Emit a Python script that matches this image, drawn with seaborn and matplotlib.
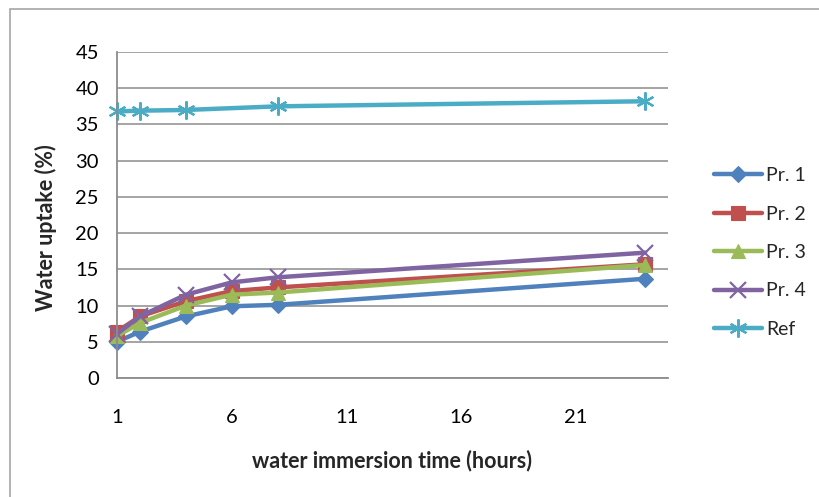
import pandas as pd
import matplotlib.pyplot as plt
import matplotlib.patches as mpatches
import seaborn as sns

# water immersion time (hours)
hours_pr = [1, 2, 4, 6, 8, 24]
hours_ref = [1, 2, 4, 8, 24]

# water uptake (%)
pr1 = [5.0, 6.4, 8.5, 9.9, 10.1, 13.7]
pr2 = [6.4, 8.5, 10.6, 12.0, 12.5, 15.7]
pr3 = [5.8, 7.6, 10.0, 11.5, 11.8, 15.6]
pr4 = [6.1, 8.5, 11.5, 13.2, 13.9, 17.3]
ref = [36.8, 36.9, 37.0, 37.5, 38.2]

series_names = ["Pr. 1", "Pr. 2", "Pr. 3", "Pr. 4", "Ref"]
colors = ["#4F81BD", "#C0504D", "#9BBB59", "#8064A2", "#4BACC6"]
markers = ["D", "s", "^", "x", (6, 2, 0)]
marker_sizes = [8, 10, 10, 11, 13]

frames = []
for name, xs, ys in zip(series_names,
                        [hours_pr] * 4 + [hours_ref],
                        [pr1, pr2, pr3, pr4, ref]):
    frames.append(pd.DataFrame({"hours": xs, "uptake": ys, "series": name}))
df = pd.concat(frames, ignore_index=True)

sns.set_theme(style="white")
plt.rcParams["font.family"] = ["Lato", "DejaVu Sans"]

fig = plt.figure(figsize=(8.2, 4.97), dpi=100)
ax = fig.add_axes([117 / 820, 1 - 378 / 497, (668 - 117) / 820, (378 - 52) / 497])

# chart area border
fig.patches.append(mpatches.Rectangle(
    (10 / 820, -0.05), 1.1, 1 - 9 / 497 + 0.05, transform=fig.transFigure,
    fill=False, edgecolor="#A6A6A6", linewidth=1.2, zorder=0))

for name, color, marker, ms in zip(series_names, colors, markers, marker_sizes):
    sub = df[df["series"] == name]
    line_marker = marker in ("x",) or isinstance(marker, tuple)
    sns.lineplot(
        data=sub, x="hours", y="uptake", ax=ax, color=color, linewidth=3.2,
        marker=marker, markersize=ms, label=name,
        markeredgecolor=color, markeredgewidth=1.6 if line_marker else 0.8,
        markerfacecolor=color, clip_on=False,
    )

ax.set_xlim(1, 25)
ax.set_ylim(0, 45)
ax.set_xticks([1, 6, 11, 16, 21])
ax.set_yticks(range(0, 50, 5))
ax.yaxis.grid(True, color="#8C8C8C", linewidth=1.1)
ax.xaxis.grid(False)
for side in ["top", "right"]:
    ax.spines[side].set_visible(False)
for side in ["left", "bottom"]:
    ax.spines[side].set_color("#8C8C8C")
    ax.spines[side].set_linewidth(1.3)
ax.tick_params(axis="x", length=0, pad=22, labelsize=14.5, colors="black")
ax.tick_params(axis="y", length=0, pad=13, labelsize=14.5, colors="black")

ax.set_xlabel("water immersion time (hours)", fontsize=15.5, fontweight="bold", labelpad=17)
ax.set_ylabel("Water uptake (%)", fontsize=15.5, fontweight="bold", labelpad=14)
ax.yaxis.set_label_coords(-0.108, 0.46)

ax.legend(loc="center left", bbox_to_anchor=(714 / 820, 1 - 252.5 / 497),
          bbox_transform=fig.transFigure, frameon=False, fontsize=14,
          handlelength=2.45, handletextpad=0.25, labelspacing=1.1, borderaxespad=0,
          borderpad=0)

fig.savefig("out.png", dpi=100)
